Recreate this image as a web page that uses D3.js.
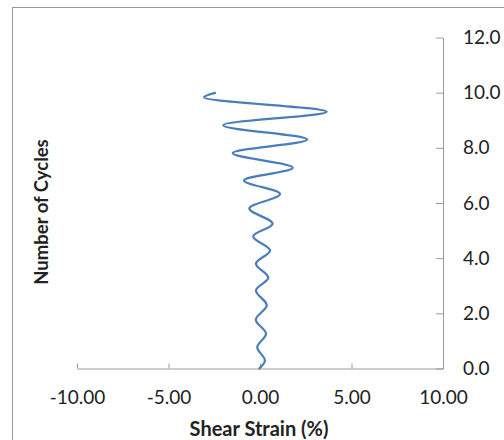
<!DOCTYPE html>
<html>
<head>
<meta charset="utf-8">
<script src="https://cdn.jsdelivr.net/npm/d3@7"></script>
<style>
  html, body { margin: 0; padding: 0; background: #fff; }
  svg { display: block; }
  text { font-family: Lato, "Open Sans", "Liberation Sans", sans-serif; fill: #222; }
</style>
</head>
<body>
<svg id="chart" width="504" height="440"></svg>
<script>
// ---- data ----
const cycles = [0, 0.29, 0.77, 1.26, 1.77, 2.29, 2.83, 3.29, 3.80, 4.28, 4.79, 5.25, 5.80, 6.33, 6.82, 7.28, 7.81, 8.30, 8.82, 9.31, 9.83, 9.99];
const strain = [-0.04, 0.27, -0.15, 0.33, -0.23, 0.37, -0.22, 0.45, -0.22, 0.55, -0.37, 0.69, -0.58, 1.09, -0.87, 1.79, -1.49, 2.58, -2.01, 3.64, -3.06, -2.46];
const xTicks = [-10, -5, 0, 5, 10];
const xTickLabels = ["-10.00", "-5.00", "0.00", "5.00", "10.00"];
const yTicks = [0, 2, 4, 6, 8, 10, 12];
const yTickLabels = ["0.0", "2.0", "4.0", "6.0", "8.0", "10.0", "12.0"];
const xTitle = "Shear Strain (%)";
const yTitle = "Number of Cycles";

const svg = d3.select("#chart");
const axisColor = "#9a9a9a";
const tickFont = 19;
const titleFont = 20;

// outer chart border (extends beyond the window on right/bottom)
svg.append("rect")
  .attr("x", 12.5).attr("y", 7.5)
  .attr("width", 700).attr("height", 700)
  .attr("fill", "none").attr("stroke", axisColor).attr("stroke-width", 1);

const x = d3.scaleLinear().domain([-10, 10]).range([77, 443]);
const y = d3.scaleLinear().domain([0, 12]).range([368.5, 37.5]);

// x axis
const xAxis = svg.append("g")
  .attr("transform", `translate(0,${y(0)})`)
  .call(d3.axisBottom(x).tickValues(xTicks)
    .tickFormat((d, i) => xTickLabels[i])
    .tickSizeInner(-5).tickSizeOuter(0).tickPadding(22));
xAxis.select(".domain").attr("stroke", axisColor);
xAxis.selectAll(".tick line").attr("stroke", axisColor);
xAxis.selectAll(".tick text").attr("font-size", tickFont).attr("fill", "#222")
  .attr("font-family", "Lato, 'Open Sans', sans-serif");

// y axis (on the right)
const yAxis = svg.append("g")
  .attr("transform", `translate(${x(10)},0)`)
  .call(d3.axisRight(y).tickValues(yTicks)
    .tickFormat((d, i) => yTickLabels[i])
    .tickSizeInner(-7).tickSizeOuter(0).tickPadding(20));
yAxis.select(".domain").attr("stroke", axisColor);
yAxis.selectAll(".tick line").attr("stroke", axisColor);
yAxis.selectAll(".tick text").attr("font-size", tickFont).attr("fill", "#222")
  .attr("font-family", "Lato, 'Open Sans', sans-serif");

// line
const pts = cycles.map((c, i) => [strain[i], c]);
const line = d3.line()
  .x(d => x(d[0]))
  .y(d => y(d[1]))
  .curve(d3.curveMonotoneY);
svg.append("path")
  .datum(pts)
  .attr("d", line)
  .attr("fill", "none")
  .attr("stroke", "#4a7ebb")
  .attr("stroke-width", 2.25)
  .attr("stroke-linejoin", "round")
  .attr("stroke-linecap", "round");

// axis titles
svg.append("text")
  .attr("x", 259).attr("y", 436)
  .attr("text-anchor", "middle")
  .attr("font-size", titleFont).attr("font-weight", "bold")
  .text(xTitle);

svg.append("text")
  .attr("transform", "translate(48,212) rotate(-90)")
  .attr("text-anchor", "middle")
  .attr("font-size", 18.5).attr("font-weight", "bold")
  .text(yTitle);
</script>
</body>
</html>
